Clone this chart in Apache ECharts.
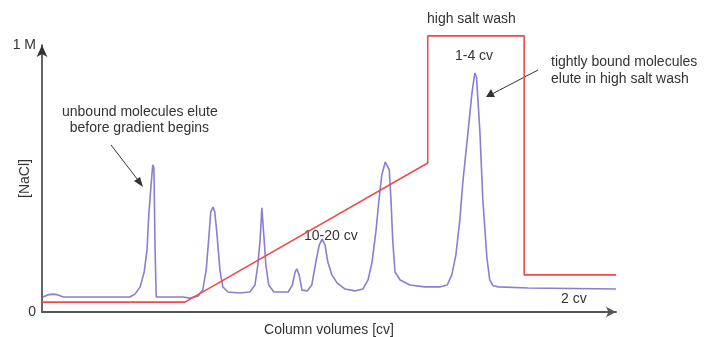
<!DOCTYPE html>
<html>
<head>
<meta charset="utf-8">
<script src="https://cdn.jsdelivr.net/npm/echarts@6/dist/echarts.min.js"></script>
<style>
  html, body { margin: 0; padding: 0; background: #fff; }
  #chart { width: 713px; height: 337px; }
</style>
</head>
<body>
<div id="chart"></div>
<script>
// salt gradient, [column volume, NaCl in M]
const saltProfile = [
    [0, 0.037], [24.9, 0.037], [67.2, 0.558], [67.2, 1.034],
    [84.0, 1.034], [84.0, 0.139], [100, 0.139]
];

// UV trace
const absorbance = [
    [0.2, 0.056], [1.0, 0.064], [1.9, 0.067], [2.8, 0.064], [3.7, 0.056],
    [15.3, 0.056], [16.2, 0.067], [17.1, 0.094], [17.8, 0.15], [18.3, 0.232],
    [18.6, 0.363], [19.0, 0.476], [19.3, 0.551], [19.5, 0.539], [19.7, 0.232],
    [19.9, 0.056], [24.6, 0.056], [25.8, 0.052], [27.2, 0.06], [28.0, 0.082],
    [28.6, 0.157], [29.1, 0.288], [29.4, 0.375], [29.8, 0.393], [30.1, 0.375],
    [30.5, 0.288], [31.0, 0.157], [31.5, 0.094], [32.4, 0.075], [34.5, 0.071],
    [36.2, 0.075], [37.1, 0.101], [37.6, 0.176], [38.0, 0.27], [38.3, 0.39],
    [38.7, 0.27], [39.0, 0.176], [39.5, 0.101], [40.4, 0.075], [42.9, 0.075],
    [43.6, 0.101], [44.1, 0.15], [44.4, 0.161], [44.8, 0.139], [45.3, 0.082],
    [46.2, 0.079], [47.0, 0.101], [47.7, 0.187], [48.3, 0.251], [48.8, 0.273],
    [49.3, 0.251], [49.8, 0.187], [50.5, 0.139], [51.4, 0.109], [52.8, 0.086],
    [54.5, 0.079], [55.9, 0.086], [56.8, 0.12], [57.5, 0.187], [58.2, 0.307],
    [58.7, 0.419], [59.2, 0.513], [59.8, 0.562], [60.1, 0.566], [60.5, 0.532],
    [60.8, 0.419], [61.1, 0.27], [61.5, 0.15], [62.4, 0.12], [64.1, 0.101],
    [66.7, 0.094], [69.3, 0.094], [70.6, 0.101], [71.4, 0.139], [72.1, 0.213],
    [72.8, 0.345], [73.3, 0.483], [74.2, 0.67], [74.9, 0.82], [75.4, 0.895],
    [75.7, 0.88], [76.3, 0.67], [76.8, 0.42], [77.5, 0.206], [78.0, 0.12],
    [78.6, 0.098], [79.5, 0.094], [84.7, 0.09], [100, 0.086]
];

const yTickLabels = { 0: '0', 1: '1 M' };

const chart = echarts.init(document.getElementById('chart'));

const font = 'Liberation Sans, Arial, sans-serif';
const textStyle = { fontFamily: font, fontSize: 14, fill: '#333' };

chart.setOption({
    animation: false,
    grid: { left: 42, top: 45, width: 574, height: 267, outerBoundsMode: 'none', containLabel: false },
    xAxis: {
        type: 'value',
        min: 0,
        max: 100,
        name: 'Column volumes [cv]',
        nameLocation: 'middle',
        nameGap: 11,
        nameMoveOverlap: false,
        nameTextStyle: { color: '#333', fontSize: 14, fontFamily: font },
        axisLine: { lineStyle: { color: '#555', width: 2 }, symbol: ['none', 'arrow'], symbolSize: [8, 10] },
        axisTick: { show: false },
        axisLabel: { show: false },
        splitLine: { show: false }
    },
    yAxis: {
        type: 'value',
        min: 0,
        max: 1,
        interval: 1,
        name: '[NaCl]',
        nameLocation: 'middle',
        nameGap: 10,
        nameMoveOverlap: false,
        nameTextStyle: { color: '#333', fontSize: 14, fontFamily: font },
        axisLine: { show: true, lineStyle: { color: '#333', width: 1.5 }, symbol: ['none', 'arrow'], symbolSize: [8, 12] },
        axisTick: { show: false },
        axisLabel: {
            margin: 6,
            color: '#333',
            fontSize: 14,
            fontFamily: font,
            formatter: (v) => yTickLabels[v] || ''
        },
        splitLine: { show: false }
    },
    series: [
        {
            type: 'line',
            data: absorbance,
            showSymbol: false,
            clip: false,
            lineStyle: { color: '#8a7dd2', width: 1.6 },
            z: 2
        },
        {
            type: 'line',
            data: saltProfile,
            showSymbol: false,
            clip: false,
            lineStyle: { color: '#f24a4a', width: 1.6 },
            z: 3
        }
    ],
    graphic: [
        { type: 'text', left: 62, top: 104, style: Object.assign({ text: 'unbound molecules elute\n  before gradient begins', lineHeight: 16 }, textStyle) },
        { type: 'line', shape: { x1: 111, y1: 145, x2: 141, y2: 184 }, style: { stroke: '#333', lineWidth: 1 } },
        { type: 'polygon', shape: { points: [[143, 187], [134, 181], [140, 177]] }, style: { fill: '#333' } },
        { type: 'text', left: 304, top: 229, style: Object.assign({ text: '10-20 cv' }, textStyle) },
        { type: 'text', left: 427, top: 12, style: Object.assign({ text: 'high salt wash' }, textStyle) },
        { type: 'text', left: 455, top: 49, style: Object.assign({ text: '1-4 cv' }, textStyle) },
        { type: 'text', left: 551, top: 54, style: Object.assign({ text: 'tightly bound molecules\nelute in high salt wash', lineHeight: 17 }, textStyle) },
        { type: 'line', shape: { x1: 538, y1: 70, x2: 492, y2: 94 }, style: { stroke: '#333', lineWidth: 1 } },
        { type: 'polygon', shape: { points: [[486, 97], [491, 89], [495, 97]] }, style: { fill: '#333' } },
        { type: 'text', left: 561, top: 292, style: Object.assign({ text: '2 cv' }, textStyle) }
    ]
});
</script>
</body>
</html>
